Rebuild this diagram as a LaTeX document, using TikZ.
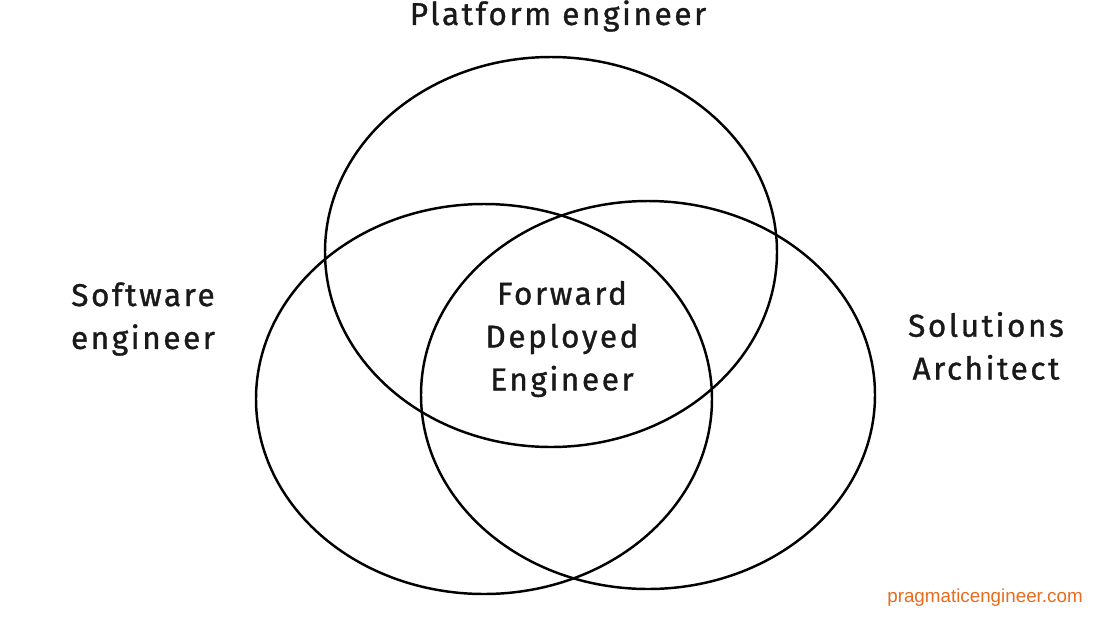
\documentclass[tikz,border=0pt]{standalone}
\usepackage{fontspec}
\setmainfont{Fira Sans}
\newfontfamily\handfont[LetterSpace=8, FakeBold=1]{Fira Sans}
\newfontfamily\urlfont{Liberation Sans}
\usetikzlibrary{positioning}
\definecolor{pragorange}{RGB}{232,108,30}
\tikzset{ring/.style={draw=black, line width=1.4pt}}
\tikzset{role/.style={font=\handfont\fontsize{18}{24.4}\selectfont, align=center, text=black!90, inner sep=0pt}}
\tikzset{site/.style={font=\urlfont\fontsize{10.7}{12}\selectfont, text=pragorange, inner sep=0pt}}

\begin{document}
\begin{tikzpicture}[x=0.02cm, y=-0.02cm]
    \useasboundingbox[fill=white] (0,0) rectangle (1120,630);

    %%%% Circles
    \draw[ring] (551,252) ellipse [x radius=226, y radius=195];
    \draw[ring] (484,399) ellipse [x radius=228, y radius=195];
    \draw[ring] (648,395) ellipse [x radius=227, y radius=194];

    %%%% Labels
    \node[role](platform) at (558,16)  {Platform engineer};
    \node[role](software) at (143,319) {Software\\engineer};
    \node[role](solutions) at (986,346) {Solutions\\Architect};
    \node[role](fde) at (562,339)      {Forward\\Deployed\\Engineer};

    %%%% Source
    \node[site](source) at (985,598) {pragmaticengineer.com};
\end{tikzpicture}
\end{document}
